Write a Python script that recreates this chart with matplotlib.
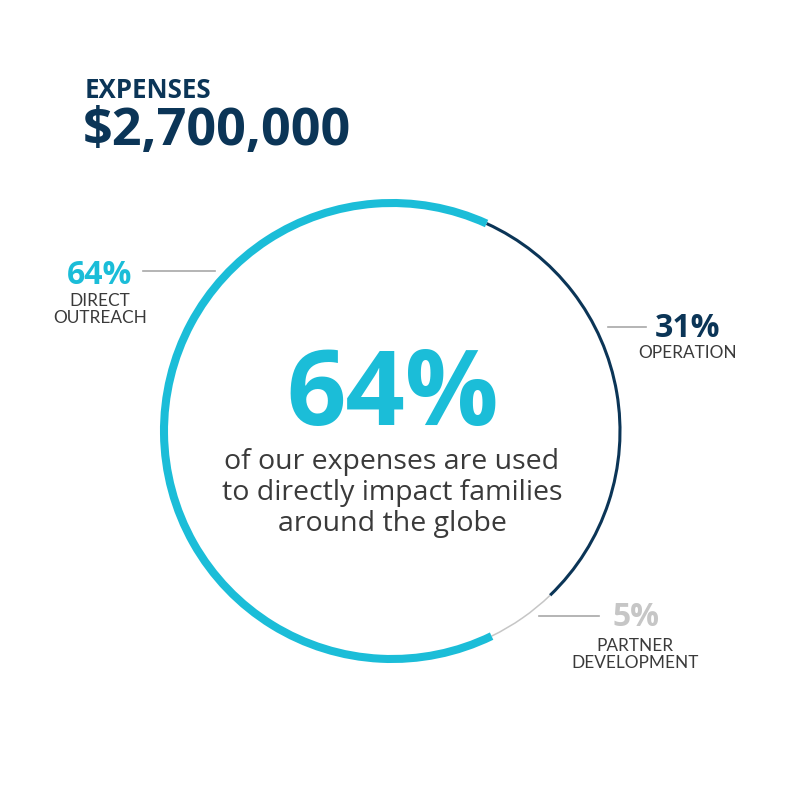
import matplotlib
matplotlib.use("Agg")
import matplotlib.pyplot as plt
from matplotlib.patches import Arc

# data
categories = ["DIRECT\nOUTREACH", "OPERATION", "PARTNER\nDEVELOPMENT"]
shares = [64, 31, 5]
headline = "EXPENSES"
total = "$2,700,000"
body = "of our expenses are used\nto directly impact families\naround the globe"

CYAN = "#1bbdd8"
NAVY = "#0b3557"
LIGHT = "#c6c6c6"
TEXT = "#3a3a3a"
LEADER = "#a8a8a8"

fig = plt.figure(figsize=(7.88, 7.88), dpi=100)
ax = fig.add_axes([0, 0, 1, 1])
ax.set_xlim(0, 788)
ax.set_ylim(0, 788)
ax.set_aspect("equal")
ax.axis("off")

H = 788
cx, cy, r = 392, H - 431, 228

# ring: segments run clockwise, operation first starting a bit right of 12 o'clock
start = 24.5
order = [1, 2, 0]
widths = {0: 5.8, 1: 2.2, 2: 1.1}
colors = {0: CYAN, 1: NAVY, 2: LIGHT}
a = start
for i in order:
    span = shares[i] / sum(shares) * 360
    a0, a1 = a, a + span
    arc = Arc((cx, cy), 2 * r, 2 * r, theta1=90 - a1, theta2=90 - a0,
              color=colors[i], lw=widths[i], capstyle="butt")
    ax.add_patch(arc)
    a = a1

bold = dict(family="Open Sans", fontweight="bold")

# title
ax.text(85, H - 90, headline, color=NAVY, fontsize=18.6, va="center", ha="left", **bold)
ax.text(83, H - 131, total, color=NAVY, fontsize=37.5, va="center", ha="left", **bold)

# centre
ax.text(cx + 1, H - 398, f"{shares[0]}%", color=CYAN, fontsize=75, ha="center",
        va="center", **bold)
ax.text(cx, H - 493, body, color=TEXT, fontsize=20.5, ha="center", va="center",
        family="Open Sans", linespacing=1.13)

# labels
label_pos = [
    # pct center, label top, leader (x0, x1, y)
    ((100, H - 275), (100, H - 293), (143, 215, H - 271)),
    ((688, H - 328), (688, H - 345), (608, 646, H - 327)),
    ((636, H - 617), (635, H - 638), (539, 599, H - 616)),
]
pct_colors = [CYAN, NAVY, LIGHT]
for i, (pp, lp, ld) in enumerate(label_pos):
    ax.text(pp[0], pp[1], f"{shares[i]}%", color=pct_colors[i], fontsize=23,
            ha="center", va="center", **bold)
    ax.text(lp[0], lp[1], categories[i], color=TEXT, fontsize=12.4, ha="center",
            va="top", family="Lato", linespacing=1.04)
    ax.plot([ld[0], ld[1]], [ld[2], ld[2]], color=LEADER, lw=1.2)

fig.savefig("out.png", dpi=100, facecolor="white")
